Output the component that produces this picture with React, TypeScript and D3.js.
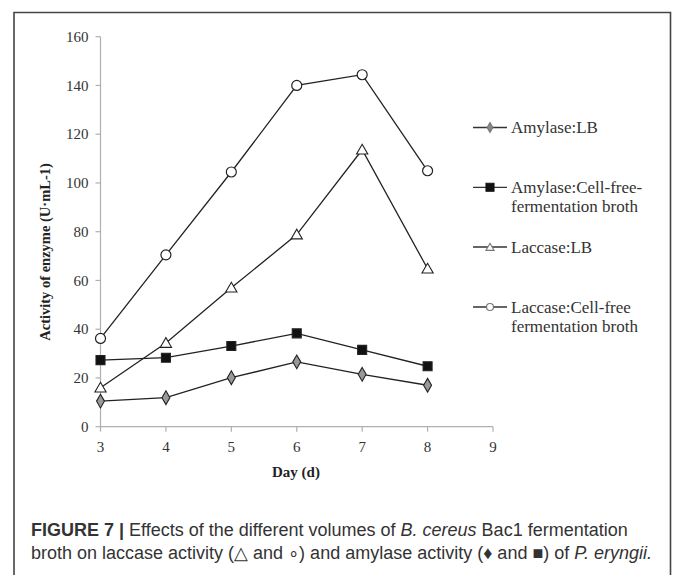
import React from "react";
import * as d3 from "d3";

// data
const days = [3, 4, 5, 6, 7, 8];
const amylaseLB = [10.5, 11.9, 20.1, 26.6, 21.5, 17];
const amylaseCellFree = [27.3, 28.3, 33.1, 38.3, 31.5, 24.8];
const laccaseLB = [16, 34.3, 57, 78.8, 113.6, 64.8];
const laccaseCellFree = [36.2, 70.5, 104.5, 140, 144.4, 105];

const yTicks = [0, 20, 40, 60, 80, 100, 120, 140, 160];
const xTicks = [3, 4, 5, 6, 7, 8, 9];

const seriesList = [
  { name: ["Amylase:LB"], values: amylaseLB, marker: "diamond" },
  { name: ["Amylase:Cell-free-", "fermentation broth"], values: amylaseCellFree, marker: "square" },
  { name: ["Laccase:LB"], values: laccaseLB, marker: "triangle" },
  { name: ["Laccase:Cell-free", "fermentation broth"], values: laccaseCellFree, marker: "circle" },
];

const W = 673;
const H = 575;
const serif = "'Liberation Serif', 'Times New Roman', serif";
const sans = "'Liberation Sans', Arial, sans-serif";

function Marker({ type, x, y, size, fill, stroke }: any) {
  if (type === "circle") {
    return <circle cx={x} cy={y} r={size / 2} fill={fill} stroke={stroke} strokeWidth={1.2} />;
  }
  const symType =
    type === "square" ? d3.symbolSquare : type === "triangle" ? d3.symbolTriangle : d3.symbolDiamond;
  const area = type === "square" ? size * size : size * size * 0.45;
  const path = d3.symbol().type(symType).size(area)() as string;
  return (
    <path
      d={path}
      transform={`translate(${x},${y + (type === "triangle" ? 1 : 0)})`}
      fill={type === "square" ? "#111" : fill}
      stroke={stroke}
      strokeWidth={1.1}
    />
  );
}

export default function App() {
  const x = d3.scaleLinear().domain([3, 9]).range([100.5, 493]);
  const y = d3.scaleLinear().domain([0, 160]).range([426.7, 36.7]);

  const line = d3
    .line<number>()
    .x((d, i) => x(days[i]))
    .y(d => y(d));

  const axisColor = "#b0b0b0";

  return (
    <svg
      width={W}
      height={H}
      style={{ position: "absolute", left: 0, top: 0, background: "#fff" }}
    >
      <rect x={0} y={0} width={W} height={H} fill="#fff" />
      {/* frame */}
      <path d={`M14,${H + 2} V12.5 H670.5 V${H + 2}`} fill="none" stroke="#444" strokeWidth={1.6} />

      {/* y axis */}
      <line x1={x(3)} x2={x(3)} y1={y(160)} y2={y(0)} stroke={axisColor} strokeWidth={1.2} />
      {yTicks.map(t => (
        <g key={"y" + t}>
          <line x1={x(3) - 5} x2={x(3)} y1={y(t)} y2={y(t)} stroke={axisColor} strokeWidth={1.2} />
          <text
            x={x(3) - 12}
            y={y(t)}
            dy="0.35em"
            textAnchor="end"
            fontFamily={serif}
            fontSize={15}
            fill="#333"
          >
            {t}
          </text>
        </g>
      ))}

      {/* x axis */}
      <line x1={x(3)} x2={x(9)} y1={y(0)} y2={y(0)} stroke={axisColor} strokeWidth={1.2} />
      {xTicks.map(t => (
        <g key={"x" + t}>
          <line x1={x(t)} x2={x(t)} y1={y(0)} y2={y(0) + 5} stroke={axisColor} strokeWidth={1.2} />
          <text
            x={x(t)}
            y={y(0) + 20}
            dy="0.35em"
            textAnchor="middle"
            fontFamily={serif}
            fontSize={15}
            fill="#333"
          >
            {t}
          </text>
        </g>
      ))}

      {/* axis titles */}
      <text
        x={296}
        y={477}
        textAnchor="middle"
        fontFamily={serif}
        fontWeight="bold"
        fontSize={15}
        fill="#222"
      >
        Day (d)
      </text>
      <text
        transform={`translate(50,252) rotate(-90)`}
        textAnchor="middle"
        fontFamily={serif}
        fontWeight="bold"
        fontSize={14.5}
        fill="#222"
      >
        Activity of enzyme (U·mL-1)
      </text>

      {/* series */}
      {seriesList.map(s => (
        <g key={s.name[0]}>
          <path d={line(s.values) as string} fill="none" stroke="#222" strokeWidth={1.3} />
          {s.values.map((v, i) => (
            <Marker
              key={i}
              type={s.marker}
              x={x(days[i])}
              y={y(v)}
              size={s.marker === "square" ? 9 : s.marker === "circle" ? 10 : 11}
              fill={s.marker === "diamond" ? "#999" : "#fff"}
              stroke="#222"
            />
          ))}
        </g>
      ))}

      {/* legend */}
      {seriesList.map((s, k) => {
        const ly = [127.5, 187.3, 247, 307][k];
        return (
          <g key={"leg" + k}>
            <line x1={473} x2={507} y1={ly} y2={ly} stroke="#333" strokeWidth={1.3} />
            <Marker
              type={s.marker}
              x={490}
              y={ly}
              size={s.marker === "square" ? 8 : s.marker === "circle" ? 7 : 8}
              fill={s.marker === "diamond" ? "#888" : "#fff"}
              stroke={s.marker === "square" ? "#111" : "#777"}
            />
            {s.name.map((n, j) => (
              <text
                key={j}
                x={511}
                y={ly + j * 19}
                dy="0.35em"
                fontFamily={serif}
                fontSize={17}
                fill="#333"
              >
                {n}
              </text>
            ))}
          </g>
        );
      })}

      {/* caption */}
      <text x={31} y={536} fontFamily={sans} fontSize={18} fill="#333">
        <tspan fontWeight="bold">FIGURE 7 | </tspan>
        <tspan>Effects of the different volumes of </tspan>
        <tspan fontStyle="italic">B. cereus</tspan>
        <tspan> Bac1 fermentation</tspan>
      </text>
      <text x={31} y={559} fontFamily={sans} fontSize={18} fill="#333">
        <tspan>broth on laccase activity (△ and ∘) and amylase activity (♦ and ■) of </tspan>
        <tspan fontStyle="italic">P. eryngii.</tspan>
      </text>
    </svg>
  );
}
